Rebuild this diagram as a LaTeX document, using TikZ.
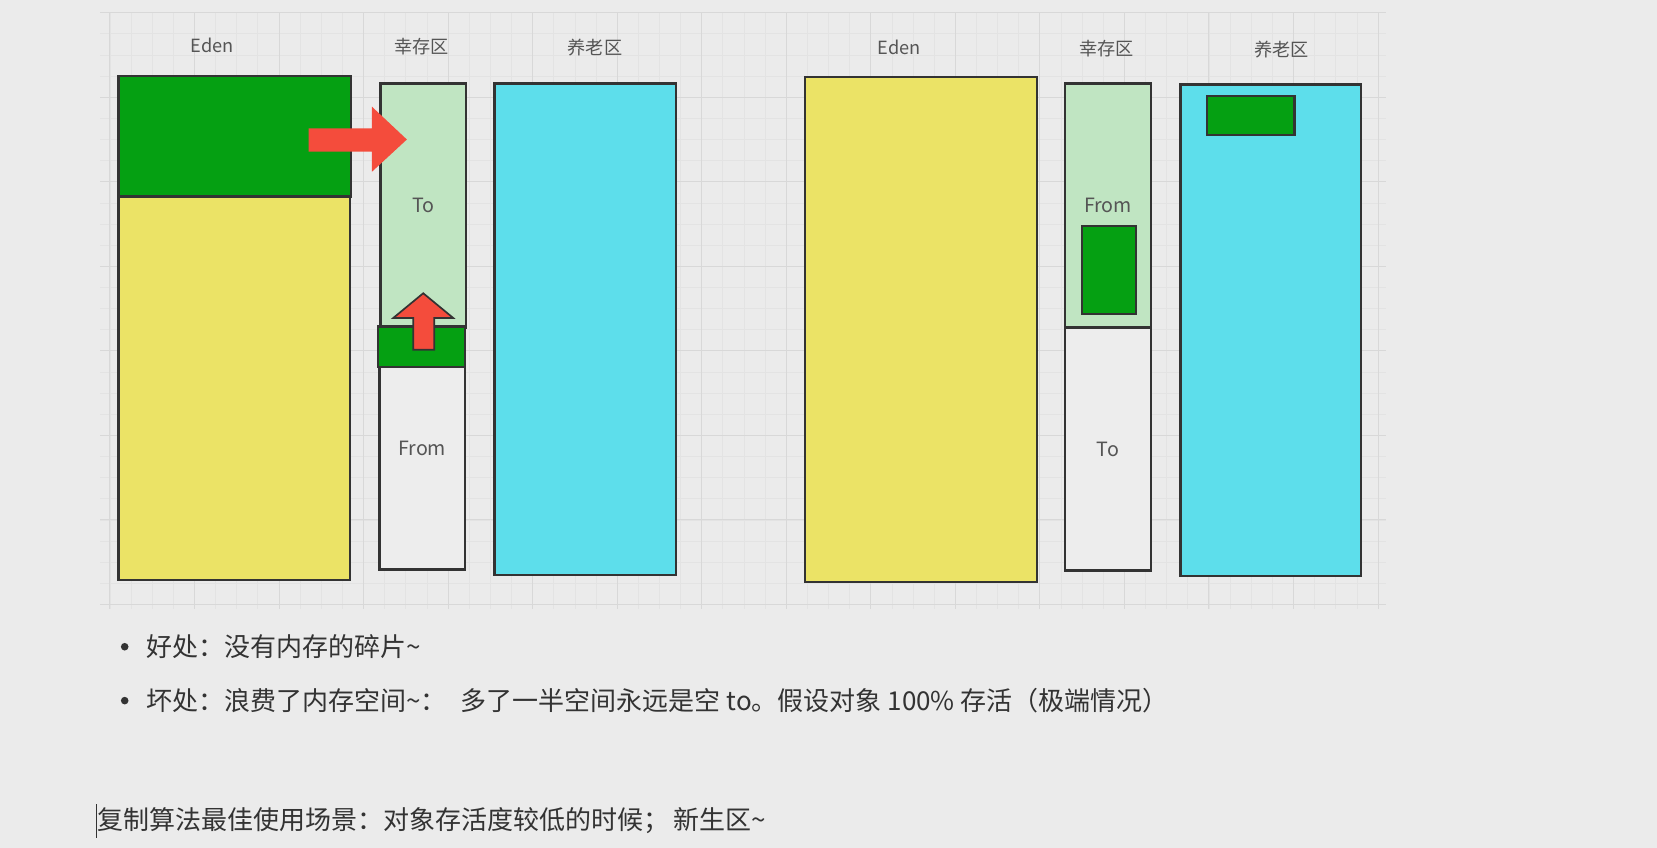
\documentclass[tikz,border=0pt]{standalone}
\usepackage{fontspec}
\newfontfamily\cjk{Noto Sans CJK SC}
\definecolor{bg}{HTML}{EBEBEB}
\definecolor{gridminor}{HTML}{E3E3E3}
\definecolor{gridmajor}{HTML}{D8D8D8}
\definecolor{edge}{HTML}{333333}
\definecolor{dkgreen}{HTML}{05A012}
\definecolor{ltgreen}{HTML}{C0E5C2}
\definecolor{yel}{HTML}{EBE366}
\definecolor{cyanbox}{HTML}{5DDEEB}
\definecolor{whitebox}{HTML}{EDEDED}
\definecolor{redarrow}{HTML}{F44C3C}
\definecolor{labc}{HTML}{555555}
\definecolor{txt}{HTML}{333333}
\tikzset{
  region/.style={draw=edge, line width=1.1pt, rectangle, anchor=north west,
    inner sep=0pt, outer sep=0pt, text=labc, font=\cjk\fontsize{9.3}{11}\selectfont},
  lab/.style={inner sep=0pt, text=labc, font=\cjk\fontsize{8.6}{10}\selectfont},
  btext/.style={anchor=west, inner sep=0pt, text=txt, font=\cjk\fontsize{12.3}{14}\selectfont},
  minorline/.style={draw=gridminor, line width=0.35pt},
  majorline/.style={draw=gridmajor, line width=0.45pt},
}
\begin{document}
\begin{tikzpicture}[x=0.5pt,y=-0.5pt]
\useasboundingbox (0,0) rectangle (1568,802);
\fill[bg] (0,0) rectangle (1568,802);
% grid
\foreach \x in {104,124,...,1304} \draw[minorline] (\x,12) -- (\x,576);
\foreach \y in {12,32,...,572} \draw[minorline] (95,\y) -- (1312,\y);
\foreach \x in {104,184,...,1304} \draw[majorline] (\x,12) -- (\x,576);
\foreach \y in {12,92,...,572} \draw[majorline] (95,\y) -- (1312,\y);

% ---------- left panel ----------
\node[region, fill=dkgreen, minimum width=110pt, minimum height=57pt] (edenGL) at (112,72) {};
\node[region, fill=yel, minimum width=109.5pt, minimum height=181.5pt] (edenYL) at (112,186) {};
\node[region, fill=ltgreen, minimum width=40.5pt, minimum height=115.5pt] (toL) at (360,79) {To};
\node[region, fill=whitebox, minimum width=40.5pt, minimum height=114.5pt] (fromL) at (359,310) {From};
\node[region, fill=dkgreen, minimum width=41pt, minimum height=19pt] (gL) at (358,309) {};
\node[region, fill=cyanbox, minimum width=86pt, minimum height=232.5pt] (oldL) at (468,79) {};

% right block arrow (no outline)
\fill[redarrow] (292,121.5) -- (352,121.5) -- (352,101) -- (385,132) -- (352,162.5)
  -- (352,143.5) -- (292,143.5) -- cycle;
% up block arrow (outlined)
\filldraw[fill=redarrow, draw=edge, line width=0.8pt, line join=miter]
  (391,331) -- (391,301) -- (372,301) -- (400.5,277.5) -- (429,301) -- (411,301)
  -- (411,331) -- cycle;

\node[lab] (lEden) at (201,43) {Eden};
\node[lab] (lSurv) at (399,44) {幸存区};
\node[lab] (lOld) at (563,45) {养老区};

% ---------- right panel ----------
\node[region, fill=yel, minimum width=109.5pt, minimum height=239pt] (edenR) at (762,73) {};
\node[region, fill=ltgreen, minimum width=40.5pt, minimum height=115.5pt] (fromR) at (1008,79) {From};
\node[region, fill=whitebox, minimum width=40.5pt, minimum height=115pt] (toR) at (1008,310) {To};
\node[region, fill=dkgreen, minimum width=25.5pt, minimum height=41.5pt] (gR1) at (1024,214) {};
\node[region, fill=cyanbox, minimum width=85.5pt, minimum height=232.5pt] (oldR) at (1117,80) {};
\node[region, fill=dkgreen, minimum width=41.5pt, minimum height=18.5pt] (gR2) at (1142,91) {};

\node[lab] (rEden) at (851,45) {Eden};
\node[lab] (rSurv) at (1047,46) {幸存区};
\node[lab] (rOld) at (1213,47) {养老区};

% ---------- text ----------
\fill[txt] (118,612) circle (3.6);
\node[btext] (good) at (138,612) {好处：没有内存的碎片\char`\~};
\fill[txt] (118,663) circle (3.6);
\node[btext] (bad) at (138,663) {坏处：浪费了内存空间\char`\~：\hspace{0.55em}多了一半空间永远是空 to。假设对象 100\% 存活（极端情况）};
\draw[txt, line width=0.6pt] (91,761) coordinate (c1) -- (91,793) coordinate (c2);
\node[btext] (best) at (92,777) {复制算法最佳使用场景：对象存活度较低的时候；\hspace{0.17em}新生区\char`\~};
\end{tikzpicture}
\end{document}
